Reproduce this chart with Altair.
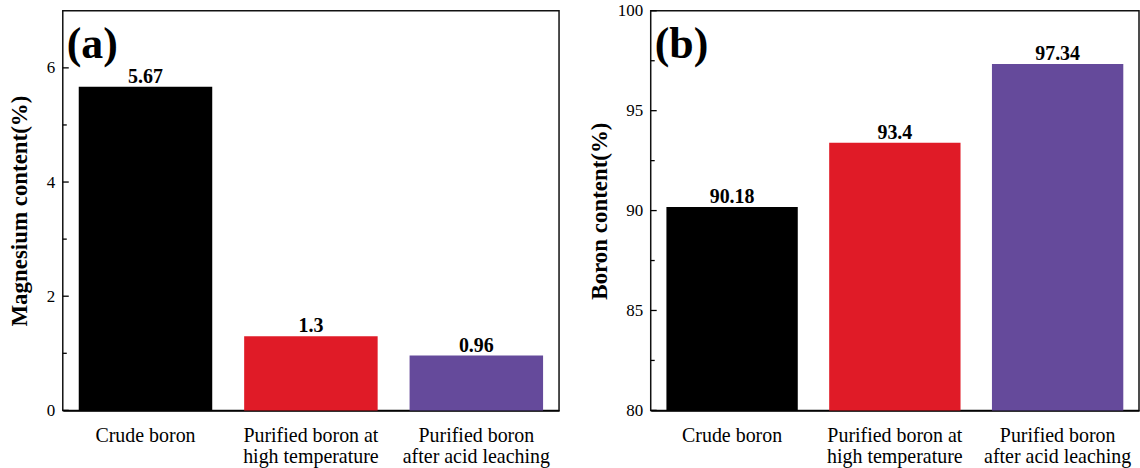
import altair as alt
import pandas as pd

categories = ["Crude boron", "Purified boron at\nhigh temperature", "Purified boron\nafter acid leaching"]
mg_values = [5.67, 1.3, 0.96]
b_values = [90.18, 93.4, 97.34]
bar_colors = ["#000000", "#E01B27", "#654A9B"]
panel_tags = ["(a)", "(b)"]
mg_major = [0, 2, 4, 6]
mg_minor = [1, 3, 5]
b_major = [80, 85, 90, 95, 100]
b_minor = [82.5, 87.5, 92.5, 97.5]

FONT = "Liberation Serif"


def panel(values, domain, major, minor, title, tag, width, title_x, base):
    df = pd.DataFrame({"cat": categories, "val": values, "lab": [str(v) for v in values]})
    xscale = alt.Scale(paddingInner=0.193, paddingOuter=0.0965)
    xaxis = alt.Axis(
        title=None, labelAngle=0, labelExpr="split(datum.value, '\\n')",
        labelFontSize=20, labelLineHeight=21, labelPadding=15, ticks=False,
        domain=True, domainColor="black", domainWidth=1.5, labelFont=FONT,
        labelColor="black", labelLimit=400, labelOverlap=False,
    )
    yscale = alt.Scale(domain=domain, zero=False, nice=False)
    yaxis = alt.Axis(
        title=title, values=major, ticks=False, domain=False, grid=False,
        labelFontSize=17, labelPadding=8, labelFont=FONT, labelColor="black",
        titleFont=FONT, titleFontSize=23, titleFontWeight="bold",
        titleX=title_x, titleColor="black",
    )
    X = alt.X("cat:N", sort=categories, scale=xscale, axis=xaxis)
    bars = alt.Chart(df).mark_bar().encode(
        x=X,
        y=alt.Y("val:Q", scale=yscale, axis=yaxis),
        y2=alt.datum(base),
        color=alt.Color("cat:N", scale=alt.Scale(domain=categories, range=bar_colors), legend=None),
    )
    text = alt.Chart(df).mark_text(
        font=FONT, fontSize=20, fontWeight="bold", dy=-4, baseline="alphabetic", color="black"
    ).encode(
        x=X,
        y=alt.Y("val:Q", scale=yscale, axis=yaxis),
        text="lab:N",
    )
    major_rules = alt.Chart(pd.DataFrame({"val": major})).mark_rule(color="black", strokeWidth=1.3).encode(
        y=alt.Y("val:Q", scale=yscale, axis=yaxis), x=alt.value(0), x2=alt.value(6)
    )
    minor_rules = alt.Chart(pd.DataFrame({"val": minor})).mark_rule(color="black", strokeWidth=1.3).encode(
        y=alt.Y("val:Q", scale=yscale, axis=yaxis), x=alt.value(0), x2=alt.value(4)
    )
    tag_text = alt.Chart(pd.DataFrame({"t": [tag]})).mark_text(
        font=FONT, fontSize=44, fontWeight="bold", align="left", baseline="alphabetic", color="black"
    ).encode(text="t:N", x=alt.value(4), y=alt.value(47))
    return alt.layer(bars, text, major_rules, minor_rules, tag_text).properties(width=width, height=401)


left = panel(mg_values, [0, 7], mg_major, mg_minor, "Magnesium content(%)", panel_tags[0], 498, -31, 0)
right = panel(b_values, [80, 100], b_major, b_minor, "Boron content(%)", panel_tags[1], 490, -39, 80)

chart = alt.hconcat(left, right, spacing=28).properties(
    padding={"left": 8, "top": 0, "right": 0, "bottom": 0},
    background="white",
).configure_view(stroke="#111111", strokeWidth=1.5)

chart.save("out.html", embed_options={"renderer": "svg", "actions": False})
